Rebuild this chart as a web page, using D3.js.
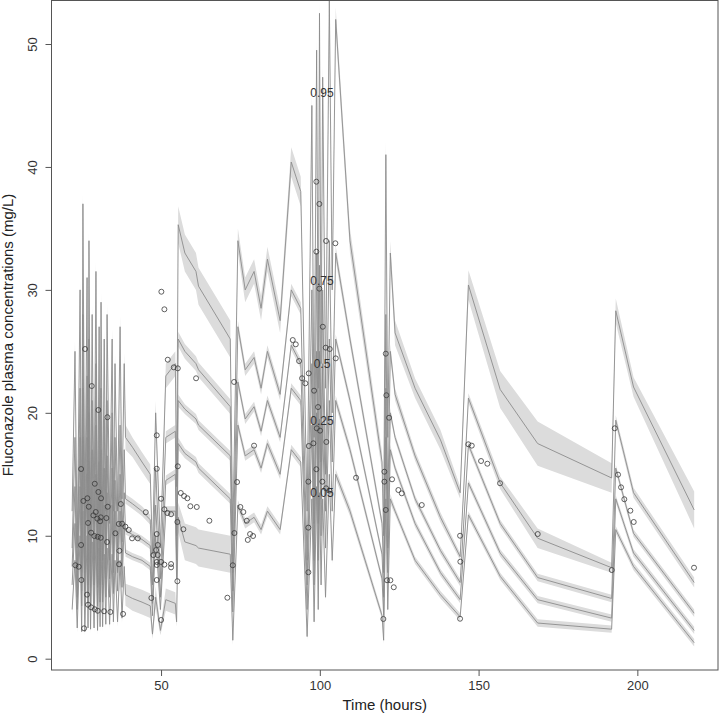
<!DOCTYPE html>
<html><head><meta charset="utf-8">
<script src="https://cdn.jsdelivr.net/npm/d3@7"></script>
<style>body{margin:0;background:#fff}svg{display:block}</style>
</head><body><svg id="c" width="719" height="719"></svg>
<script>
// time grid of the percentile curves (hours)
const times = [22.0,22.9,23.6,24.5,25.0,25.4,26.0,26.7,27.0,27.3,27.8,28.3,28.9,29.5,30.0,30.5,30.8,31.1,31.6,32.1,32.6,33.0,33.8,34.6,35.0,35.5,36.3,37.1,37.7,38.4,38.8,
 41,44,46.6,47.3,
 48.3,49.8,51.5,54.5,54.9,55.4,
 57.5,61,61.8,71.8,72.6,
 74.2,76.5,79.3,81.5,83.5,87.5,91.0,94.0,96.0,
 97.5,98.2,99.0,99.5,99.9,100.4,100.9,101.8,103.0,103.9,105.0,
 109.5,119.6,120.1,120.8,121.4,122.2,123.7,130,138,
 144.2,146.8,156.8,168.6,191.9,193.2,198.8,217.9];
const p95 = [12,25,9,30,10,37,10,31,11,34,10,28,11,31.5,10,27,11,29,11,26,12,28,11,26,12,24,12,27,13,24,18,
 17.2,16.0,15.0,8.5,
 20,9,23,24,14,35.3,
 33,31.5,30.3,26,10,
 34,30,31.5,28.5,32.5,27.5,40.4,38,12,
 45,18,49.5,22,52.5,24,47.3,22,53.5,30,52,
 34,16,10,41,18,33,26.5,22,17.8,
 13.5,30.4,21.9,17.5,14.7,28.3,22.1,12.1];
const p75 = [9,18,6.5,22,7,28,7,23,8,26,7.5,21,8,24,7.5,20,8,22,8,19.5,8.5,21,8,20,8.5,18,9,19,9.5,17,13,
 12.6,12.0,11.3,6,
 15.5,6.5,18,18.5,10,26,
 25,24,23.5,20.5,7,
 27,23.5,24.5,22,25,21.5,30,28.5,8,
 30,11,33,14,32,16,30,15,34,20,33,
 26,11,7,28,12,25,21.5,16.5,11.5,
 8.3,21.2,14.3,9.8,7.4,19.4,13.5,6.2];
const p50 = [7.5,14,5,18,5.5,22,5.5,18,6,20,5.8,17,6,19,5.8,16,6,17,6,15.5,6.5,16.5,6.5,15.5,7,14.5,7,15,7.5,13.5,10.4,
 10.1,9.7,9.2,4.5,
 12.5,5,14.5,15,8,21,
 20.3,19.5,19.0,16.5,5.5,
 22.5,19.5,20.5,18.5,21,18,25.5,24,6,
 24,8,25,11,25,13,24,12,26,16,26,
 21,8.5,5,22,9,20,18,13,8.8,
 6.2,17.4,11.0,6.6,4.9,15.5,10.2,3.7];
const p25 = [6,11,4,14,4.3,18,4.3,15,4.5,16,4.4,14,4.5,15,4.3,13,4.6,14,4.6,12.5,5,13.5,5,12.5,5.3,12,5.5,12,5.8,11,8.6,
 8.3,8.0,7.5,3.5,
 10,4,12,12,6.5,17.5,
 16.7,16,15.5,13,3.8,
 19,16.5,17,15.5,17.5,15,22,21,4,
 19,6,20,8,19.5,10,19,9,21,12,21,
 17,6.5,3.5,18,7,17,15.5,11,7,
 4.8,14.3,8.6,4.8,3.3,13,8.6,2.3];
const p05 = [4,8,2.5,10,2.2,12,2.2,10,2.5,11,2.4,9.5,2.5,10,2.3,9,2.6,9.5,2.6,8.5,2.8,9,2.8,8.5,3,8,3,8,3.3,7.5,5.2,
 4.9,4.6,4.3,2.0,
 5,2.3,4.8,4.5,3,11.5,
 9.5,9.2,9.0,8.5,1.5,
 12.5,11,11.5,10.5,12,10.5,17,16,1.8,
 13,3,14,4,13.5,6,13,5,15,8,15,
 12,3.5,1.5,13,4,13,12,8,5.2,
 3.4,11.7,6.7,2.9,2.4,10.5,7.5,1.3];
// half-width of the simulated confidence band around each percentile
const w95 = [0.9,0.9,0.9,0.9,0.9,0.9,0.9,0.9,0.9,0.9,0.9,0.9,0.9,0.9,0.9,0.9,0.9,0.9,0.9,0.9,0.9,0.9,0.9,0.9,0.9,0.9,0.9,0.9,0.9,0.9,1.0,
 0.8,0.8,0.8,0.5,
 1,0.5,1,1,0.5,1.5,
 1.5,1.5,1.5,1.5,0.5,
 1,1,1,1,1,1,1.2,1.2,0.5,
 1.0,0.6,1.0,0.6,1.0,0.6,1.0,0.6,1.0,0.6,1.0,
 1,0.8,0.5,1.2,0.6,1.0,1.0,0.8,0.8,
 0.5,1.2,1.5,1.8,1.2,1.0,0.8,1.5];
const w75 = [0.4,0.4,0.4,0.4,0.4,0.4,0.4,0.4,0.4,0.4,0.4,0.4,0.4,0.4,0.4,0.4,0.4,0.4,0.4,0.4,0.4,0.4,0.4,0.4,0.4,0.4,0.4,0.4,0.4,0.4,0.4,
 0.4,0.4,0.4,0.3,
 0.5,0.3,0.5,0.5,0.3,0.6,
 0.6,0.6,0.6,0.6,0.3,
 0.5,0.5,0.5,0.5,0.5,0.5,0.5,0.5,0.3,
 0.6,0.3,0.6,0.3,0.6,0.3,0.6,0.3,0.6,0.3,0.6,
 0.5,0.4,0.3,0.6,0.3,0.6,0.5,0.4,0.4,
 0.3,0.4,0.5,0.8,0.4,0.4,0.4,0.4];
const w50 = [0.3,0.3,0.3,0.3,0.3,0.3,0.3,0.3,0.3,0.3,0.3,0.3,0.3,0.3,0.3,0.3,0.3,0.3,0.3,0.3,0.3,0.3,0.3,0.3,0.3,0.3,0.3,0.3,0.3,0.3,0.3,
 0.3,0.3,0.3,0.3,
 0.4,0.3,0.4,0.4,0.3,0.5,
 0.4,0.4,0.4,0.4,0.3,
 0.4,0.4,0.4,0.4,0.4,0.4,0.4,0.4,0.3,
 0.4,0.3,0.4,0.3,0.4,0.3,0.4,0.3,0.4,0.3,0.4,
 0.4,0.3,0.3,0.4,0.3,0.4,0.3,0.3,0.3,
 0.3,0.3,0.3,0.3,0.3,0.3,0.3,0.3];
const w25 = [0.3,0.3,0.3,0.3,0.3,0.3,0.3,0.3,0.3,0.3,0.3,0.3,0.3,0.3,0.3,0.3,0.3,0.3,0.3,0.3,0.3,0.3,0.3,0.3,0.3,0.3,0.3,0.3,0.3,0.3,0.3,
 0.3,0.3,0.3,0.3,
 0.4,0.3,0.4,0.4,0.3,0.5,
 0.4,0.4,0.4,0.4,0.3,
 0.4,0.4,0.4,0.4,0.4,0.4,0.4,0.4,0.3,
 0.4,0.3,0.4,0.3,0.4,0.3,0.4,0.3,0.4,0.3,0.4,
 0.4,0.3,0.3,0.4,0.3,0.4,0.3,0.3,0.3,
 0.3,0.3,0.3,0.3,0.3,0.3,0.3,0.3];
const w05 = [0.4,0.4,0.4,0.4,0.4,0.4,0.4,0.4,0.4,0.4,0.4,0.4,0.4,0.4,0.4,0.4,0.4,0.4,0.4,0.4,0.4,0.4,0.4,0.4,0.4,0.4,0.4,0.4,0.4,0.4,0.9,
 1.0,1.0,1.0,0.4,
 0.9,0.4,0.9,0.9,0.4,1.2,
 1.5,1.5,1.5,1.5,0.4,
 0.4,0.4,0.4,0.4,0.4,0.4,0.4,0.4,0.3,
 0.4,0.3,0.4,0.3,0.4,0.3,0.4,0.3,0.4,0.3,0.4,
 0.4,0.3,0.3,0.4,0.3,0.4,0.3,0.3,0.3,
 0.3,0.3,0.3,0.3,0.3,0.3,0.3,0.3];
const quantLabels = ["0.95","0.75","0.5","0.25","0.05"];
const labelTime = 100.7;
const labelValues = [46,30.7,24,19.3,13.5];

// observed concentrations
const obsTime = [26.07,28.18,30.26,33.10,24.82,29.13,30.26,31.11,25.54,26.80,27.24,33.22,37.32,29.44,28.69,29.95,31.02,32.78,30.80,27.02,36.69,37.73,38.77,39.84,35.62,27.96,29.00,30.07,31.02,33.00,40.88,42.67,24.82,23.02,24.09,36.88,36.78,24.91,26.70,27.02,27.96,29.13,30.07,32.06,34.04,38.04,25.76,
 50.10,51.05,52.12,54.01,55.27,61.03,73.00,48.65,48.65,55.27,73.94,50.01,56.21,57.25,58.29,59.24,61.25,45.19,51.05,51.99,53.16,65.22,55.14,57.03,48.65,73.09,48.97,48.43,47.58,48.97,48.65,50.01,51.05,53.16,53.16,48.65,72.59,48.65,55.14,46.95,70.89,50.01,79.29,74.98,75.92,77.00,78.03,78.98,77.31,
 98.91,99.86,101.97,104.90,98.91,99.86,100.93,91.48,92.43,101.87,103.13,105.02,93.47,96.52,94.41,95.45,98.19,99.45,99.04,100.08,102.06,97.97,96.52,98.91,96.39,100.80,101.97,103.01,111.42,96.39,96.39,120.77,120.96,121.81,120.33,120.33,122.75,124.74,125.81,120.77,132.11,121.18,122.22,123.29,120.01,
 144.17,144.26,144.17,146.78,147.85,150.78,152.76,156.76,168.63,191.94,192.88,193.92,194.87,195.90,197.80,198.86,217.85];
const obsConc = [25.19,22.18,20.23,19.64,15.43,14.23,13.56,13.05,12.83,13.05,12.36,12.36,12.58,11.93,11.66,11.39,11.50,11.44,11.18,11.04,10.96,10.98,10.74,10.47,10.20,10.25,9.98,9.92,9.84,9.49,9.79,9.79,9.25,7.60,7.48,8.78,7.68,6.40,5.21,4.39,4.18,4.02,3.90,3.86,3.80,3.64,2.47,
 29.85,28.42,24.32,23.70,23.62,22.81,22.51,18.17,15.45,15.65,14.37,13.01,13.48,13.23,13.05,12.40,12.34,11.91,12.15,11.85,11.75,11.22,11.12,10.53,10.14,10.22,9.25,8.84,8.43,8.43,7.87,7.87,7.65,7.70,7.43,7.62,7.60,6.40,6.30,4.94,4.96,3.15,17.33,12.34,11.93,11.22,10.14,9.98,9.66,
 38.80,36.99,33.98,33.79,33.11,30.10,27.00,25.92,25.57,25.30,25.19,24.43,24.21,23.21,22.81,22.40,21.80,20.47,18.74,18.55,17.63,17.52,17.30,15.41,14.40,14.40,13.86,13.67,14.72,10.66,7.03,24.81,21.43,19.60,15.21,14.40,14.59,13.72,13.45,12.10,12.50,6.38,6.38,5.81,3.23,
 10.00,7.89,3.25,17.44,17.33,16.08,15.86,14.27,10.14,7.21,18.74,14.97,13.94,12.97,12.04,11.12,7.40];

const xTicks = [50,100,150,200];
const yTicks = [0,10,20,30,40,50];

const svg = d3.select("#c");
const L = 51.5, R = 718, T = 0.5, B = 670;
const x = d3.scaleLinear().domain([15.5,225.4]).range([L,R]);
const y = d3.scaleLinear().domain([-0.92,53.58]).range([B,0]);
const font = "'Liberation Sans', Arial, Helvetica, sans-serif";

svg.append("clipPath").attr("id","clip").append("rect")
  .attr("x",L).attr("y",T).attr("width",R-L).attr("height",B-T);
const g = svg.append("g").attr("clip-path","url(#clip)");

const series = [[p95,w95],[p75,w75],[p50,w50],[p25,w25],[p05,w05]];
const area = d3.area().x(d=>x(d.t)).y0(d=>y(d.v-d.w)).y1(d=>y(d.v+d.w));
const line = d3.line().x(d=>x(d.t)).y(d=>y(d.v));
series.forEach(([vals,ws])=>{
  const pts = times.map((t,i)=>({t,v:vals[i],w:ws[i]}));
  g.append("path").datum(pts).attr("d",area).attr("fill","#dcdcdc").attr("stroke","none");
});
series.forEach(([vals])=>{
  const pts = times.map((t,i)=>({t,v:vals[i]}));
  g.append("path").datum(pts).attr("d",line).attr("fill","none")
   .attr("stroke","#8c8c8c").attr("stroke-width",0.9);
});
g.selectAll("circle.obs").data(obsTime.map((t,i)=>({t,v:obsConc[i]}))).join("circle")
  .attr("class","obs").attr("cx",d=>x(d.t)).attr("cy",d=>y(d.v)).attr("r",2.5)
  .attr("fill","none").attr("stroke","#3a3a3a").attr("stroke-width",0.8);
g.selectAll("text.q").data(quantLabels).join("text").attr("class","q")
  .attr("x",x(labelTime)).attr("y",(d,i)=>y(labelValues[i]))
  .attr("text-anchor","middle").attr("dominant-baseline","central")
  .attr("font-family",font).attr("font-size",12).attr("fill","#333").text(d=>d);

// frame
svg.append("rect").attr("x",L).attr("y",T).attr("width",R-L).attr("height",B-T)
  .attr("fill","none").attr("stroke","#555").attr("stroke-width",1);

// axes
const xa = svg.append("g").attr("transform",`translate(0,${B})`)
  .call(d3.axisBottom(x).tickValues(xTicks).tickSize(6).tickPadding(5).tickFormat(d3.format("d")));
xa.select(".domain").remove();
xa.selectAll("line").attr("stroke","#555");
xa.selectAll("text").attr("font-family",font).attr("font-size",13).attr("fill","#333");

const ya = svg.append("g").attr("transform",`translate(${L},0)`)
  .call(d3.axisLeft(y).tickValues(yTicks).tickSize(6).tickFormat(d3.format("d")));
ya.select(".domain").remove();
ya.selectAll("line").attr("stroke","#555");
ya.selectAll("text").attr("font-family",font).attr("font-size",13).attr("fill","#333")
  .attr("x",null).attr("dy",null).attr("text-anchor","middle").attr("dominant-baseline","central")
  .attr("transform","translate(-19,0) rotate(-90)");

svg.append("text").attr("x",(L+R)/2).attr("y",710).attr("text-anchor","middle")
  .attr("font-family",font).attr("font-size",15).attr("fill","#222").text("Time (hours)");
svg.append("text").attr("transform",`translate(13,${(B)/2}) rotate(-90)`).attr("text-anchor","middle")
  .attr("font-family",font).attr("font-size",15).attr("fill","#222").text("Fluconazole plasma concentrations (mg/L)");
</script></body></html>
